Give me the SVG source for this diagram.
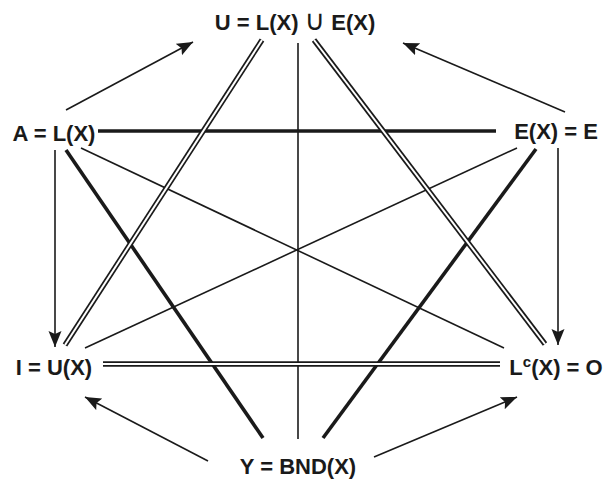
<svg xmlns="http://www.w3.org/2000/svg" width="612" height="479" viewBox="0 0 612 479">
<style>
.lbl{font-family:"Liberation Sans",Arial,sans-serif;font-weight:bold;font-size:22px;fill:#1a1a1a;text-anchor:middle}
.cup{font-family:"DejaVu Sans",sans-serif;font-weight:normal;font-size:28px}
.thin{stroke:#1a1a1a;stroke-width:1.6;fill:none}
.thick{stroke:#1a1a1a;stroke-width:3.6;fill:none}
.dblo{stroke:#1a1a1a;stroke-width:5.4;fill:none}
.dbli{stroke:#fff;stroke-width:2;fill:none}
.arr{stroke:#1a1a1a;stroke-width:1.6;fill:none;marker-end:url(#ah)}
</style>
<defs>
<marker id="ah" markerUnits="userSpaceOnUse" markerWidth="18" markerHeight="14" refX="16" refY="6.5" orient="auto">
<path d="M0,0 L16,6.5 L0,13 L3,6.5 z" fill="#1a1a1a"/>
</marker>
</defs>
<g id="connectors">
<line class="thin" x1="298" y1="43" x2="298" y2="439"/>
<line class="thin" x1="81" y1="148" x2="504" y2="348"/>
<line class="thin" x1="517" y1="148" x2="85" y2="348"/>
<line class="thick" x1="98" y1="131" x2="496" y2="131"/>
<line class="thick" x1="66" y1="150" x2="263" y2="438"/>
<line class="thick" x1="536" y1="149" x2="323" y2="438"/>
<g>
<line class="dblo" x1="262" y1="40" x2="65" y2="345"/>
<line class="dbli" x1="262" y1="40" x2="65" y2="345"/>
<line class="dblo" x1="314" y1="40" x2="545" y2="344"/>
<line class="dbli" x1="314" y1="40" x2="545" y2="344"/>
<line class="dblo" x1="103" y1="364" x2="500" y2="364"/>
<line class="dbli" x1="103" y1="364" x2="500" y2="364"/>
</g>
<line class="arr" x1="66" y1="110" x2="193" y2="42"/>
<line class="arr" x1="565" y1="112" x2="403" y2="43"/>
<line class="arr" x1="55" y1="150" x2="55" y2="347"/>
<line class="arr" x1="558" y1="148" x2="558" y2="345"/>
<line class="arr" x1="208" y1="461" x2="85" y2="397"/>
<line class="arr" x1="374" y1="457" x2="517" y2="397"/>
</g>
<g id="node-U"><text class="lbl" x="295" y="30">U = L(X) <tspan class="cup">∪</tspan> E(X)</text></g>
<g id="node-A"><text class="lbl" x="54" y="141">A = L(X)</text></g>
<g id="node-E"><text class="lbl" x="556" y="139">E(X) = E</text></g>
<g id="node-I"><text class="lbl" x="54" y="375">I = U(X)</text></g>
<g id="node-Lc"><text class="lbl" x="556" y="375">L<tspan font-size="15" dy="-8">c</tspan><tspan dy="8">(X) = O</tspan></text></g>
<g id="node-Y"><text class="lbl" x="298" y="474">Y = BND(X)</text></g>
</svg>
